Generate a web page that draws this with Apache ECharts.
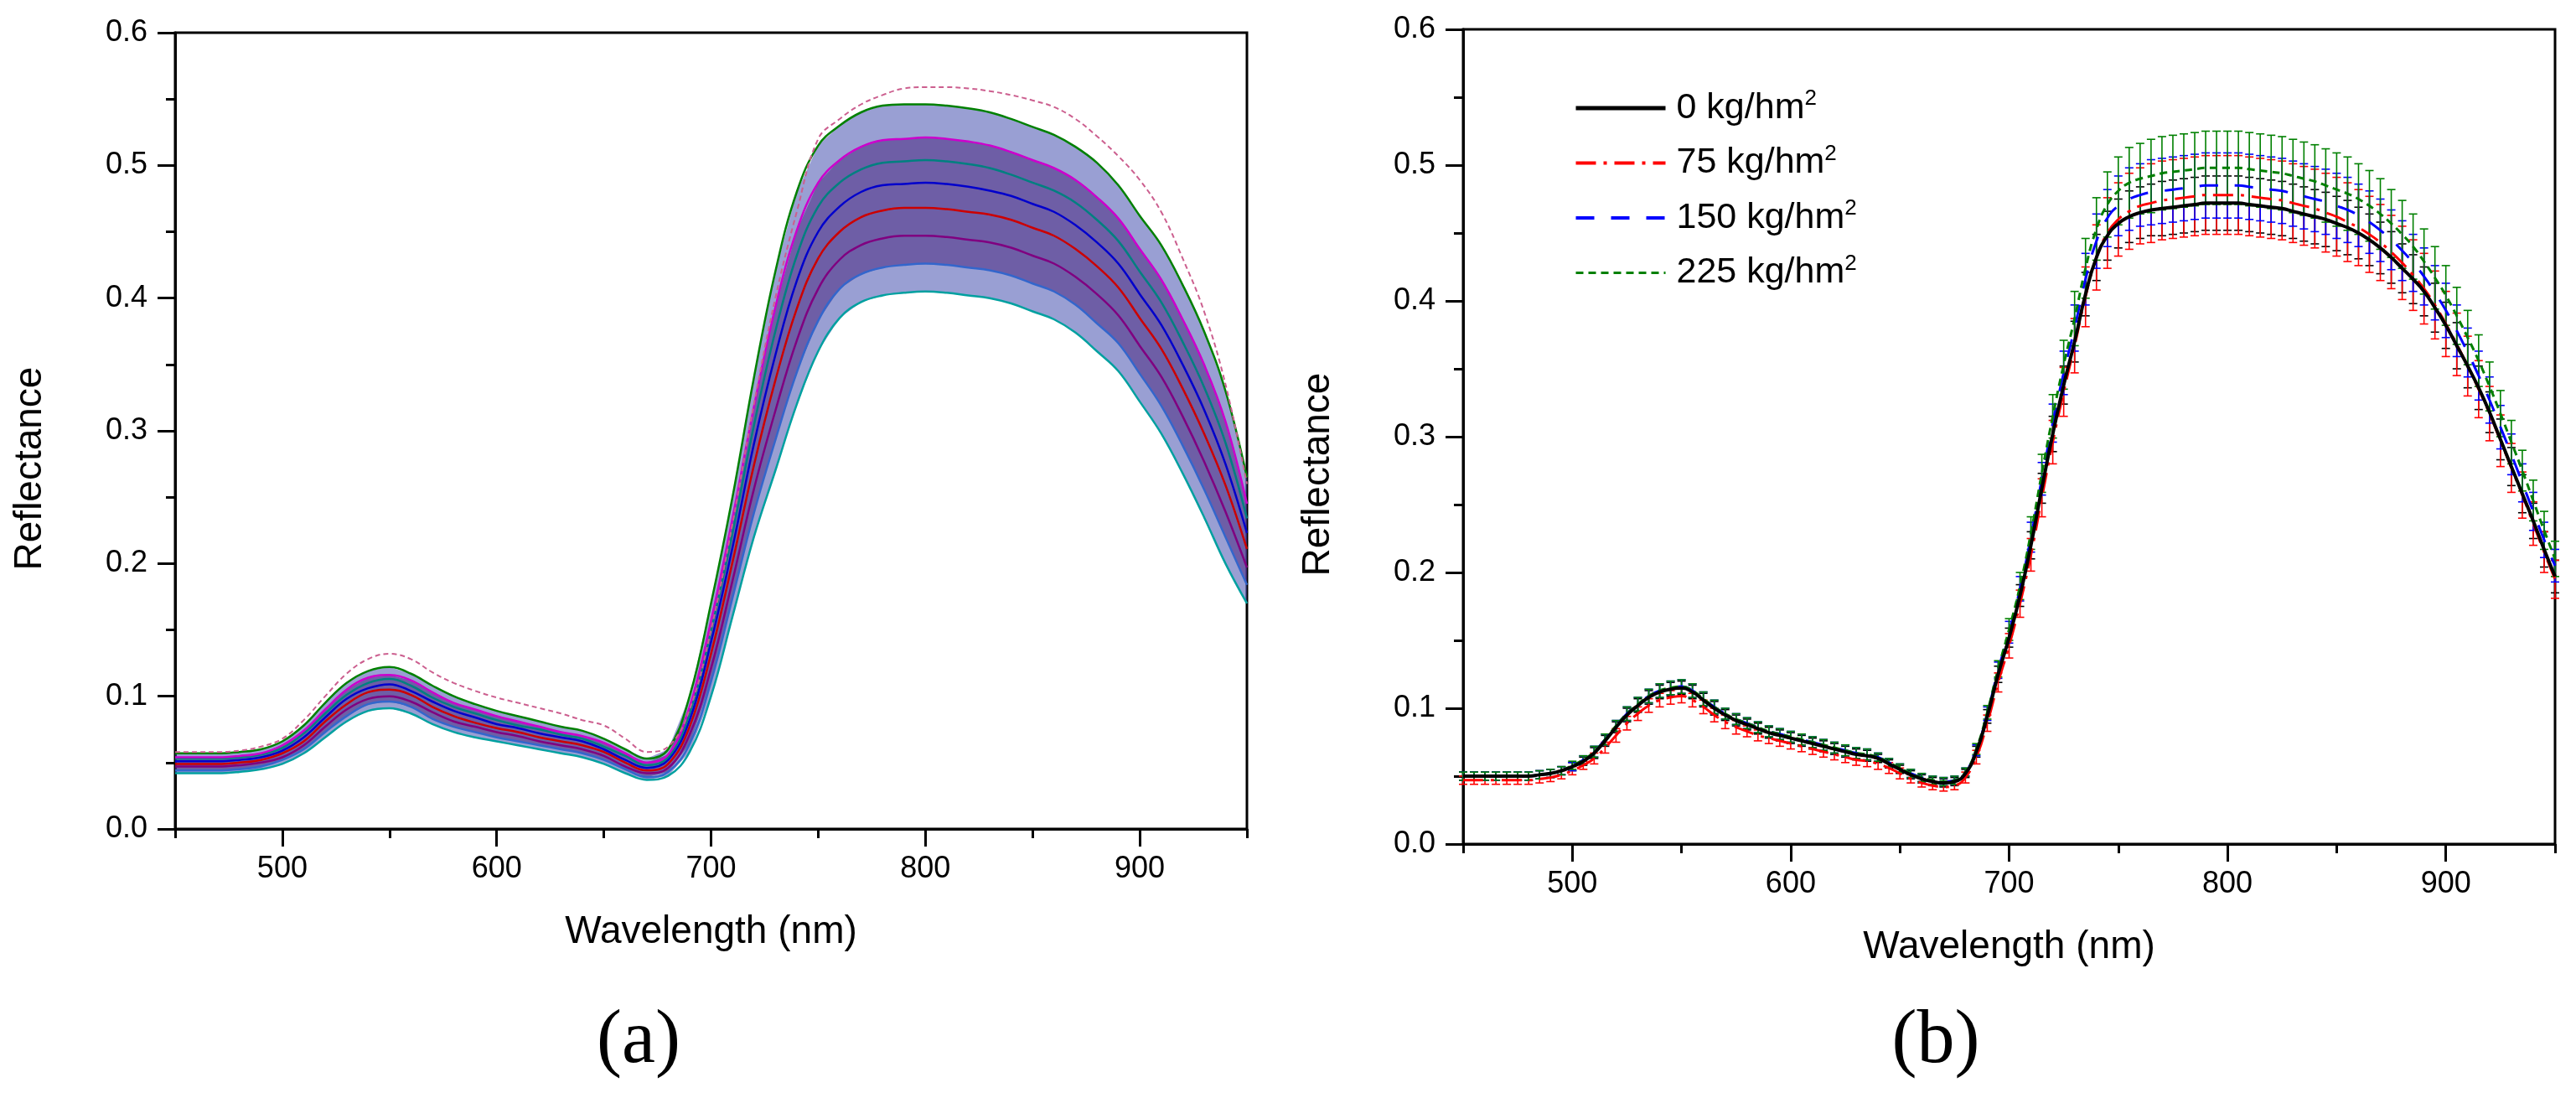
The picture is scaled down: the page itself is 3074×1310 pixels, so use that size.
<!DOCTYPE html>
<html>
<head>
<meta charset="utf-8">
<script src="https://cdn.jsdelivr.net/npm/echarts@6/dist/echarts.min.js"></script>
<style>
  html, body { margin: 0; padding: 0; background: #fff; }
  #main { width: 3074px; height: 1310px; }
</style>
</head>
<body>
<div id="main"></div>
<script>
var FONT = 'Liberation Sans';

// tick positions
var xTicks = [500, 600, 700, 800, 900];
var xMinorTicks = [450, 550, 650, 750, 850, 950];

// ---------- panel (a): individual spectra (10 nm) ----------
var wl10 = [450,460,470,480,490,500,510,520,530,540,550,560,570,580,590,600,610,620,630,640,
            650,660,670,680,690,700,710,720,730,740,750,760,770,780,790,800,810,820,830,840,
            850,860,870,880,890,900,910,920,930,940,950];

var specA1 = [.042,.042,.042,.043,.045,.049,.057,.069,.081,.089,.091,.087,.079,.073,.069,.066,.063,.060,.057,.054,
              .049,.042,.037,.040,.058,.100,.160,.220,.270,.320,.360,.385,.397,.402,.404,.405,.404,.402,.400,.396,
              .390,.384,.374,.360,.345,.322,.298,.268,.235,.200,.170];
var specA2 = [.044,.044,.044,.045,.047,.052,.060,.073,.085,.094,.096,.092,.083,.077,.073,.069,.066,.063,.060,.057,
              .052,.045,.039,.043,.064,.111,.174,.238,.293,.344,.383,.407,.418,.423,.425,.426,.425,.423,.421,.417,
              .411,.405,.395,.381,.366,.343,.319,.289,.256,.220,.184];
var specA3 = [.047,.047,.047,.048,.050,.054,.063,.077,.090,.098,.100,.096,.088,.081,.077,.073,.070,.066,.063,.060,
              .055,.047,.042,.046,.071,.121,.187,.256,.315,.368,.407,.429,.440,.445,.447,.447,.446,.444,.442,.438,
              .432,.426,.416,.403,.387,.364,.341,.311,.277,.239,.197];
var specA4 = [.049,.049,.049,.050,.052,.057,.066,.081,.094,.103,.105,.101,.092,.085,.080,.076,.073,.069,.066,.063,
              .058,.050,.044,.049,.077,.132,.201,.274,.338,.392,.430,.450,.461,.466,.468,.468,.467,.465,.463,.459,
              .453,.447,.437,.424,.408,.385,.362,.332,.298,.259,.211];
var specA5 = [.051,.051,.051,.052,.054,.059,.069,.084,.098,.106,.109,.104,.096,.089,.084,.079,.076,.072,.069,.066,
              .060,.052,.046,.052,.082,.141,.212,.290,.357,.413,.450,.469,.480,.485,.486,.487,.486,.484,.481,.477,
              .471,.465,.455,.442,.426,.403,.380,.350,.316,.275,.223];
var specA6 = [.053,.053,.053,.054,.056,.061,.072,.087,.101,.110,.113,.108,.099,.092,.087,.082,.078,.075,.071,.068,
              .062,.055,.048,.054,.087,.149,.223,.304,.375,.432,.469,.487,.497,.502,.503,.504,.503,.501,.498,.493,
              .487,.481,.472,.459,.443,.420,.397,.367,.333,.291,.234];
var specA7 = [.054,.054,.054,.055,.057,.063,.074,.090,.105,.114,.116,.112,.103,.095,.090,.085,.081,.077,.073,.070,
              .065,.057,.050,.056,.092,.157,.234,.318,.393,.451,.487,.504,.514,.519,.520,.521,.520,.518,.515,.510,
              .504,.498,.489,.476,.460,.437,.414,.384,.350,.307,.245];
var specA8 = [.057,.057,.057,.058,.060,.066,.078,.095,.110,.119,.122,.117,.108,.100,.094,.089,.085,.081,.077,.074,
              .068,.060,.053,.060,.100,.170,.250,.340,.420,.480,.515,.530,.540,.545,.546,.546,.545,.543,.540,.535,
              .529,.523,.514,.502,.485,.462,.440,.410,.375,.330,.265];
var specOut = [.058,.058,.058,.059,.062,.068,.082,.100,.117,.128,.132,.128,.118,.110,.104,.099,.095,.091,.087,.082,
               .078,.068,.058,.062,.090,.150,.230,.320,.400,.465,.520,.535,.546,.553,.558,.559,.559,.558,.556,.553,
               .549,.544,.535,.522,.507,.489,.465,.430,.390,.335,.260];

// ---------- panel (b): treatment means and SD (5 nm) ----------
var wl5 = [450,455,460,465,470,475,480,485,490,495,500,505,510,515,520,525,530,535,540,545,
           550,555,560,565,570,575,580,585,590,595,600,605,610,615,620,625,630,635,640,645,
           650,655,660,665,670,675,680,685,690,695,700,705,710,715,720,725,730,735,740,745,
           750,755,760,765,770,775,780,785,790,795,800,805,810,815,820,825,830,835,840,845,
           850,855,860,865,870,875,880,885,890,895,900,905,910,915,920,925,930,935,940,945,950];

var doses = ['0', '75', '150', '225'];

var mean0 = [.050,.050,.050,.050,.050,.050,.050,.051,.052,.054,
             .057,.061,.067,.076,.086,.095,.102,.108,.112,.114,
             .115,.112,.106,.100,.095,.091,.088,.085,.082,.080,
             .078,.076,.074,.072,.070,.068,.066,.065,.063,.059,
             .055,.051,.048,.046,.045,.046,.052,.068,.094,.125,
             .152,.183,.220,.262,.302,.338,.370,.405,.432,.448,
             .457,.462,.465,.467,.468,.469,.470,.471,.472,.472,
             .472,.472,.471,.470,.469,.468,.466,.464,.462,.460,
             .457,.454,.450,.445,.439,.432,.424,.416,.407,.395,
             .382,.367,.352,.336,.318,.298,.278,.258,.238,.217,.197];
var mean75 = [.047,.047,.047,.047,.047,.047,.047,.048,.049,.051,
              .054,.058,.063,.071,.080,.089,.096,.102,.106,.108,
              .109,.106,.101,.095,.090,.086,.083,.080,.078,.076,
              .074,.072,.070,.068,.066,.064,.062,.061,.059,.056,
              .052,.048,.045,.043,.042,.043,.049,.064,.089,.119,
              .146,.177,.213,.255,.296,.333,.367,.403,.432,.450,
              .460,.466,.470,.472,.474,.475,.476,.477,.478,.478,
              .478,.478,.477,.476,.475,.474,.472,.470,.468,.465,
              .462,.458,.454,.449,.443,.436,.428,.419,.409,.397,
              .383,.368,.352,.335,.317,.297,.277,.257,.236,.215,.195];
var mean150 = [.050,.050,.050,.050,.050,.050,.050,.051,.052,.054,
               .057,.062,.068,.077,.087,.096,.103,.109,.113,.115,
               .116,.113,.107,.101,.096,.092,.089,.086,.083,.081,
               .079,.077,.075,.073,.071,.069,.067,.066,.064,.060,
               .056,.052,.049,.047,.046,.047,.053,.069,.096,.128,
               .156,.188,.226,.269,.310,.347,.380,.416,.444,.461,
               .470,.475,.478,.480,.481,.482,.483,.484,.485,.485,
               .485,.485,.484,.483,.482,.481,.479,.477,.475,.473,
               .470,.467,.463,.458,.452,.445,.437,.428,.418,.406,
               .393,.378,.362,.345,.327,.307,.287,.266,.245,.224,.205];
var mean225 = [.050,.050,.050,.050,.050,.050,.050,.051,.052,.054,
               .058,.062,.068,.077,.087,.096,.103,.109,.113,.115,
               .116,.113,.107,.101,.096,.092,.089,.086,.083,.081,
               .079,.077,.075,.073,.071,.069,.067,.066,.064,.060,
               .056,.052,.049,.047,.046,.047,.053,.070,.097,.129,
               .158,.190,.229,.273,.315,.353,.387,.424,.453,.471,
               .481,.487,.490,.492,.494,.495,.496,.497,.498,.498,
               .498,.498,.497,.496,.495,.494,.492,.490,.488,.485,
               .482,.479,.475,.470,.464,.457,.449,.440,.429,.417,
               .404,.389,.373,.356,.337,.317,.296,.275,.253,.231,.210];

var sd0 = [.003,.003,.003,.003,.003,.003,.003,.003,.003,.003,
           .003,.003,.004,.004,.004,.005,.005,.005,.005,.005,
           .005,.005,.005,.005,.004,.004,.004,.004,.004,.004,
           .004,.004,.004,.004,.004,.004,.004,.004,.003,.003,
           .003,.003,.003,.003,.003,.003,.003,.004,.005,.006,
           .007,.008,.010,.011,.013,.014,.015,.016,.017,.018,
           .018,.019,.019,.019,.020,.020,.020,.020,.020,.020,
           .020,.020,.020,.020,.020,.020,.020,.020,.020,.020,
           .020,.020,.019,.019,.019,.019,.018,.018,.018,.018,
           .017,.017,.016,.016,.015,.015,.014,.014,.013,.013,.012];
var sd75 = [.003,.003,.003,.003,.003,.003,.003,.003,.003,.003,
            .003,.003,.004,.004,.005,.005,.005,.005,.005,.005,
            .005,.005,.005,.005,.005,.005,.004,.004,.004,.004,
            .004,.004,.004,.004,.004,.004,.004,.004,.004,.004,
            .004,.003,.003,.003,.003,.003,.004,.005,.006,.007,
            .009,.010,.012,.014,.016,.018,.020,.022,.024,.026,
            .027,.028,.028,.029,.029,.029,.029,.029,.029,.029,
            .029,.029,.029,.029,.029,.029,.029,.029,.029,.029,
            .029,.029,.028,.028,.028,.027,.027,.026,.026,.025,
            .024,.023,.022,.021,.020,.019,.018,.017,.016,.015,.014];
var sd150 = [.003,.003,.003,.003,.003,.003,.003,.003,.003,.003,
             .003,.003,.004,.004,.004,.005,.005,.005,.005,.005,
             .005,.005,.005,.005,.004,.004,.004,.004,.004,.004,
             .004,.004,.004,.004,.004,.004,.004,.004,.003,.003,
             .003,.003,.003,.003,.003,.003,.003,.004,.005,.006,
             .008,.009,.011,.012,.014,.016,.017,.019,.020,.021,
             .022,.023,.023,.024,.024,.024,.024,.024,.024,.024,
             .024,.024,.024,.024,.024,.024,.024,.024,.024,.024,
             .024,.024,.023,.023,.023,.022,.022,.021,.021,.020,
             .020,.019,.018,.018,.017,.016,.015,.014,.014,.013,.012];
var sd225 = [.003,.003,.003,.003,.003,.003,.003,.003,.003,.003,
             .003,.003,.004,.004,.004,.005,.005,.005,.005,.005,
             .005,.005,.005,.005,.004,.004,.004,.004,.004,.004,
             .004,.004,.004,.004,.004,.004,.004,.004,.003,.003,
             .003,.003,.003,.003,.003,.003,.003,.004,.005,.006,
             .008,.010,.012,.014,.016,.018,.020,.022,.023,.024,
             .025,.026,.026,.027,.027,.027,.027,.027,.027,.027,
             .027,.027,.027,.027,.027,.027,.027,.027,.027,.027,
             .027,.027,.026,.026,.026,.025,.025,.024,.024,.023,
             .022,.021,.020,.019,.018,.017,.016,.015,.015,.014,.013];

var means = [mean0, mean75, mean150, mean225];
var sds = [sd0, sd75, sd150, sd225];
var groupColors = ['#000000', '#ff0000', '#0000ff', '#008000'];
var groupDash = ['solid', [24, 9, 4, 9], [22, 20], [9, 6]];
var groupWidth = [4, 3, 3, 3];
var legendWidth = [5, 4, 4, 3];

function pairs(xs, ys) {
    return xs.map(function (x, i) { return [x, ys[i]]; });
}

function xAxisPair(gridIndex) {
    return [{
        type: 'value', gridIndex: gridIndex, min: 450, max: 950,
        name: 'Wavelength (nm)', nameLocation: 'middle', nameGap: 100,
        nameTextStyle: { fontFamily: FONT, fontSize: 46, color: '#000' },
        axisLine: { lineStyle: { color: '#000', width: 3 } },
        axisTick: { customValues: xTicks, length: 21, lineStyle: { color: '#000', width: 3 } },
        axisLabel: { customValues: xTicks, margin: 30, fontFamily: FONT, fontSize: 36, color: '#000' },
        splitLine: { show: false }
    }, {
        type: 'value', gridIndex: gridIndex, min: 450, max: 950, position: 'bottom',
        axisLine: { show: false },
        axisTick: { customValues: xMinorTicks, length: 11, lineStyle: { color: '#000', width: 3 } },
        axisLabel: { show: false },
        splitLine: { show: false }
    }];
}

function yAxisFor(gridIndex) {
    return {
        type: 'value', gridIndex: gridIndex, min: 0, max: 0.6, interval: 0.1,
        name: 'Reflectance', nameLocation: 'middle', nameGap: 150, nameRotate: 90,
        nameTextStyle: { fontFamily: FONT, fontSize: 46, color: '#000', padding: [0, 90, 0, 0] },
        axisLine: { show: true, lineStyle: { color: '#000', width: 3 } },
        axisTick: { length: 21, lineStyle: { color: '#000', width: 3 } },
        minorTick: { show: true, splitNumber: 2, length: 11, lineStyle: { color: '#000', width: 3 } },
        axisLabel: {
            margin: 33, fontFamily: FONT, fontSize: 36, color: '#000',
            formatter: function (v) { return v.toFixed(1); }
        },
        splitLine: { show: false },
        minorSplitLine: { show: false }
    };
}

function renderErrorBar(params, api) {
    var x = api.value(0);
    var p1 = api.coord([x, api.value(1)]);
    var p2 = api.coord([x, api.value(2)]);
    var w = 5;
    var st = { stroke: api.visual('color'), lineWidth: 1.6, fill: null };
    return {
        type: 'group',
        children: [
            { type: 'line', shape: { x1: p1[0], y1: p1[1], x2: p2[0], y2: p2[1] }, style: st },
            { type: 'line', shape: { x1: p1[0] - w, y1: p1[1], x2: p1[0] + w, y2: p1[1] }, style: st },
            { type: 'line', shape: { x1: p2[0] - w, y1: p2[1], x2: p2[0] + w, y2: p2[1] }, style: st }
        ]
    };
}

// the band between two spectra is drawn once, as one polygon
function bandRenderer(lo, hi, fill) {
    return function (params, api) {
        if (params.dataIndex !== 0) return null;
        var pts = [];
        var i;
        for (i = 0; i < wl10.length; i++) pts.push(api.coord([wl10[i], hi[i]]));
        for (i = wl10.length - 1; i >= 0; i--) pts.push(api.coord([wl10[i], lo[i]]));
        return { type: 'polygon', shape: { points: pts }, style: { fill: fill } };
    };
}

var series = [];

function bandSeries(lo, hi, fill) {
    series.push({
        type: 'custom', xAxisIndex: 0, yAxisIndex: 0, silent: true, clip: true,
        renderItem: bandRenderer(lo, hi, fill),
        encode: { x: 0, y: [1, 2] },
        data: wl10.map(function (w, i) { return [w, lo[i], hi[i]]; }),
        z: 1
    });
}
bandSeries(specA1, specA8, 'rgba(70, 80, 175, 0.55)');
bandSeries(specA2, specA7, 'rgba(75, 40, 130, 0.55)');

var specsA = [specA1, specA2, specA3, specA4, specA5, specA6, specA7, specA8];
var specColors = ['#00a0a0', '#3366cc', '#800080', '#cc0000', '#0000cc', '#008080', '#cc00cc', '#008000'];
specsA.forEach(function (s, i) {
    series.push({
        type: 'line', xAxisIndex: 0, yAxisIndex: 0, symbol: 'none', smooth: 0.4,
        lineStyle: { color: specColors[i], width: 2.5 },
        data: pairs(wl10, s), z: 2
    });
});
series.push({
    type: 'line', xAxisIndex: 0, yAxisIndex: 0, symbol: 'none', smooth: 0.4,
    lineStyle: { color: '#cc5f8f', width: 2, type: [6, 4] },
    data: pairs(wl10, specOut), z: 2
});

// panel (b) error bars then mean lines
var names = doses.map(function (d) { return d + ' kg/hm²'; });
means.forEach(function (m, g) {
    series.push({
        type: 'custom', name: 'err' + doses[g], xAxisIndex: 2, yAxisIndex: 1,
        renderItem: renderErrorBar,
        itemStyle: { color: groupColors[g] },
        encode: { x: 0, y: [1, 2] },
        data: wl5.map(function (w, i) { return [w, m[i] - sds[g][i], m[i] + sds[g][i]]; }),
        z: 2
    });
});
[1, 2, 3, 0].forEach(function (g) {
    series.push({
        type: 'line', name: names[g], xAxisIndex: 2, yAxisIndex: 1,
        symbol: 'none', showSymbol: false, smooth: true,
        itemStyle: { color: groupColors[g] },
        lineStyle: { color: groupColors[g], width: groupWidth[g], type: groupDash[g] },
        data: pairs(wl5, means[g]), z: g === 0 ? 4 : 3
    });
});

var xa = xAxisPair(0).concat(xAxisPair(1));

var option = {
    animation: false,
    backgroundColor: '#ffffff',
    grid: [
        { left: 209, top: 39, width: 1279, height: 950, show: true, borderColor: '#000', borderWidth: 3 },
        { left: 1746, top: 35, width: 1303, height: 972, show: true, borderColor: '#000', borderWidth: 3 }
    ],
    xAxis: xa,
    yAxis: [yAxisFor(0), yAxisFor(1)],
    legend: {
        orient: 'vertical', left: 1873, top: 100,
        itemWidth: 107, itemHeight: 14, itemGap: 20,
        itemStyle: { opacity: 0 },
        data: names.map(function (n, g) {
            return { name: n, lineStyle: { width: legendWidth[g], type: groupDash[g], color: groupColors[g] } };
        }),
        formatter: function (n) { return '{t|' + n.replace('²', '') + '}{s|2}'; },
        textStyle: {
            rich: {
                t: { fontFamily: FONT, fontSize: 43, color: '#000', padding: [0, 0, 0, 8] },
                s: { fontFamily: FONT, fontSize: 26, color: '#000', padding: [0, 0, 22, 0] }
            }
        }
    },
    graphic: [
        { type: 'text', x: 762, y: 1243, style: { text: '(a)', font: '90px "Liberation Serif"', fill: '#000', textAlign: 'center', textVerticalAlign: 'middle' } },
        { type: 'text', x: 2310, y: 1243, style: { text: '(b)', font: '90px "Liberation Serif"', fill: '#000', textAlign: 'center', textVerticalAlign: 'middle' } }
    ],
    series: series
};

var myChart = echarts.init(document.getElementById('main'));
myChart.setOption(option);
</script>
</body>
</html>
